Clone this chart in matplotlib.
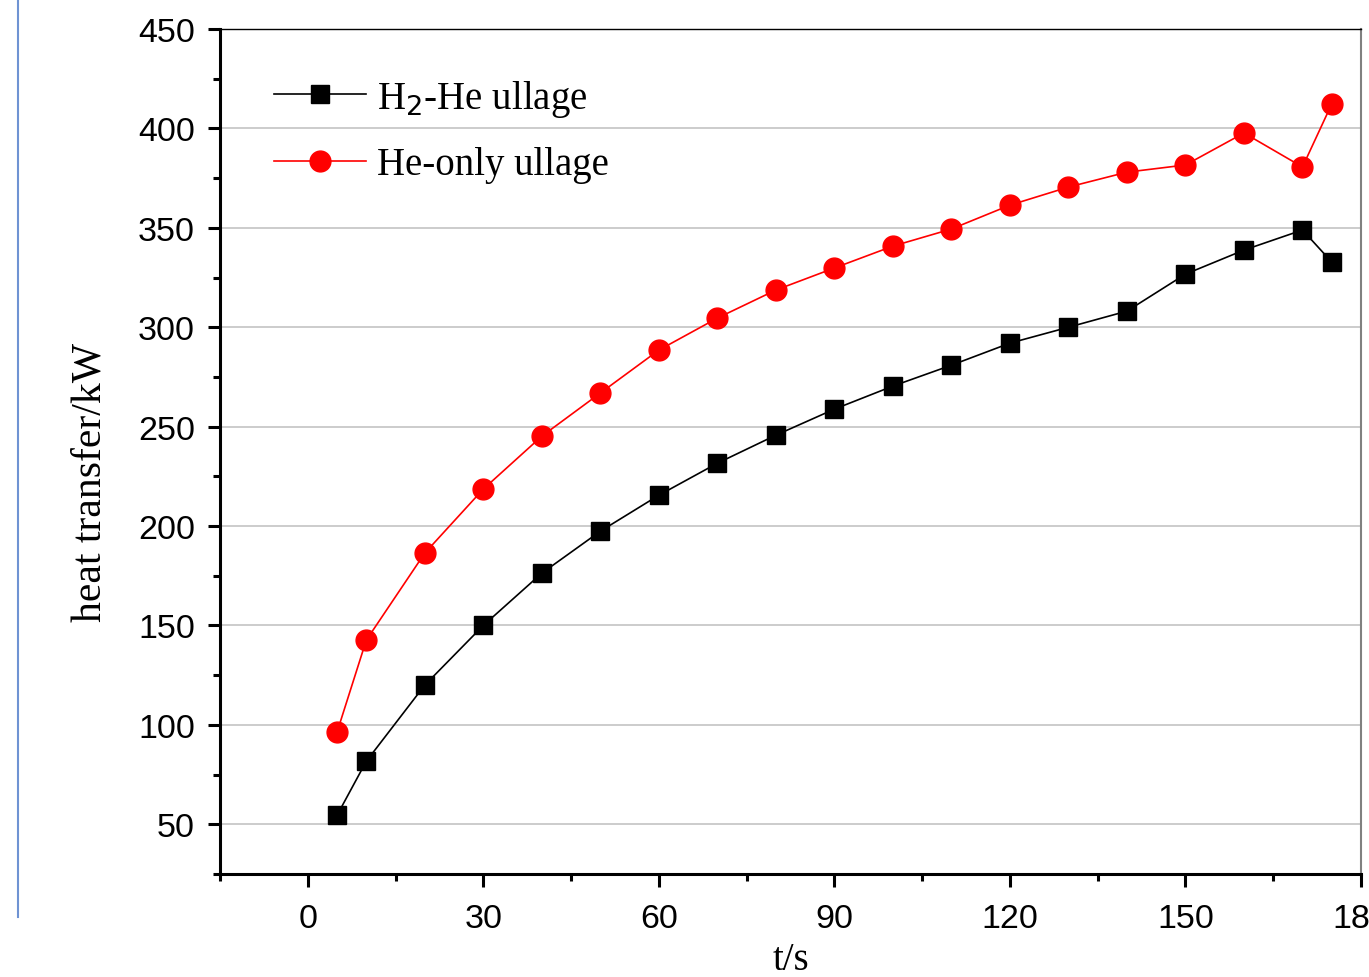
import matplotlib
matplotlib.use("Agg")
import matplotlib.pyplot as plt
from matplotlib.lines import Line2D
from matplotlib.ticker import MultipleLocator

# time points (s)
t = [5, 10, 20, 30, 40, 50, 60, 70, 80, 90, 100, 110, 120, 130, 140, 150, 160, 170, 175]
# heat transfer (kW)
h2_he = [54.5, 81.7, 120, 150, 176.3, 197.4, 215.5, 231.6, 245.7, 258.8, 270.4,
         280.9, 292, 300, 308.1, 326.7, 338.8, 348.9, 332.8]
he_only = [96.3, 142.6, 186.4, 218.6, 245.2, 266.9, 288.5, 304.6, 318.7, 329.8, 340.8,
           349.4, 361.4, 370.5, 378, 381.6, 397.7, 380.6, 412.3]

fig = plt.figure(figsize=(13.69, 9.78), dpi=100)
ax = fig.add_axes([220/1369, 1-875/978, (1361-220)/1369, (875-30)/978])

ax.plot(t, h2_he, color='black', lw=1.2, marker='s', ms=13, mec='black', mfc='black',
        label=r'H$_2$-He ullage')
ax.plot(t, he_only, color='red', lw=1.2, marker='o', ms=15, mec='red', mfc='red',
        label='He-only ullage')

ax.set_xlim(-15, 180)
ax.set_ylim(25, 450)
ax.xaxis.set_major_locator(MultipleLocator(30))
ax.xaxis.set_minor_locator(MultipleLocator(15))
ax.yaxis.set_major_locator(MultipleLocator(50))
ax.yaxis.set_minor_locator(MultipleLocator(25))
ax.set_yticks([50, 100, 150, 200, 250, 300, 350, 400, 450])

ax.grid(axis='y', color='#c8c8c8', lw=1.3)
ax.set_axisbelow(True)

for s in ['left', 'bottom']:
    ax.spines[s].set_linewidth(2.2)
ax.spines['top'].set_linewidth(1.0)
ax.spines['right'].set_linewidth(1.5)
ax.spines['right'].set_color('#808080')

ax.tick_params(which='major', direction='out', length=9, width=2.2, labelsize=24.5,
               top=False, right=False)
ax.tick_params(which='minor', direction='out', length=5, width=2.2, top=False, right=False)
for lab in ax.get_xticklabels() + ax.get_yticklabels():
    lab.set_fontfamily('Liberation Sans')
ax.tick_params(axis='x', pad=12)
ax.tick_params(axis='y', pad=9)

ax.set_xlabel('t/s', fontsize=28, family='Liberation Serif', labelpad=5)
ax.set_ylabel('heat transfer/kW', fontsize=30, family='Liberation Serif')
ax.yaxis.set_label_coords(-0.097, 0.464)

leg = ax.legend(loc='upper left', bbox_to_anchor=(0.047, 0.942), frameon=False,
                prop={'family': 'Liberation Serif', 'size': 28}, handlelength=2.37,
                handletextpad=0.28, labelspacing=0.70, borderpad=0, borderaxespad=0)

# page margin line at the left
fig.add_artist(Line2D([18/1369, 18/1369], [1-918/978, 1.0], color='#6f93d3', lw=1.5))

fig.savefig('out.png', dpi=100)
